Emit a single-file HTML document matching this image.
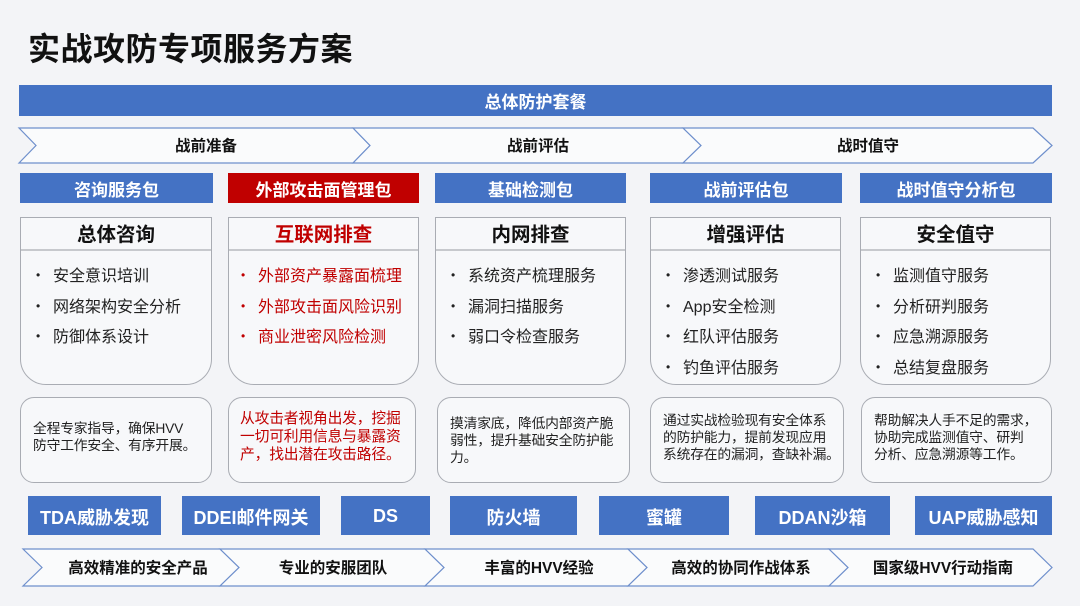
<!DOCTYPE html>
<html><head><meta charset="utf-8"><style>
*{margin:0;padding:0;box-sizing:border-box}
body{width:1080px;height:606px;background:#f3f4f7;font-family:"Liberation Sans","Noto Sans CJK SC",sans-serif;position:relative;overflow:hidden}
.a{position:absolute}
.title{left:28px;top:24px;font-size:32px;font-weight:bold;color:#111;letter-spacing:0.5px}
.bar{background:#4472c4;color:#fff;font-weight:bold;display:flex;align-items:center;justify-content:center}
.hd{top:173px;height:30px;font-size:17px}
.card{top:217px;height:168px;border:1px solid #a9acb3;border-radius:0 0 26px 26px;background:#f7f8fa}
.card .h{height:33px;border-bottom:2px solid #c7c9cd;text-align:center;font-size:19.5px;font-weight:bold;line-height:35px;color:#111}
.card ul{list-style:none;padding:10px 0 0 15px}
.card li{font-size:16px;line-height:29.5px;color:#222;white-space:nowrap}
.card li:before{content:"•";display:inline-block;width:17px;font-size:12px;vertical-align:2px}
.red{color:#c00000!important}
.desc{top:397px;height:86px;border:1px solid #a9acb3;border-radius:14px;background:#f7f8fa;font-size:13.8px;line-height:17px;color:#222;display:flex;align-items:center;padding:0 0 6px 12px;white-space:nowrap;letter-spacing:-0.2px}
.pr{top:496px;height:39px;font-size:18px;padding-top:2px}
.chev text{font-weight:bold;fill:#111}
</style></head><body>
<div class="a title">实战攻防专项服务方案</div>
<div class="a bar" style="left:19px;top:85px;width:1033px;height:31px;font-size:17px">总体防护套餐</div>
<svg class="a chev" style="left:0;top:0" width="1080" height="606">
<g fill="#fafbfc" stroke="#6e8fcc" stroke-width="1.2">
<polygon points="19,128 353,128 370,145.5 353,163 19,163 36,145.5"/>
<polygon points="353,128 683,128 701,145.5 683,163 353,163 370,145.5"/>
<polygon points="683,128 1033,128 1052,145.5 1033,163 683,163 701,145.5"/>
<polygon points="23,549 220,549 239,567.5 220,586 23,586 42,567.5"/>
<polygon points="220,549 425,549 444,567.5 425,586 220,586 239,567.5"/>
<polygon points="425,549 628,549 647,567.5 628,586 425,586 444,567.5"/>
<polygon points="628,549 829,549 848,567.5 829,586 628,586 647,567.5"/>
<polygon points="829,549 1033,549 1052,567.5 1033,586 829,586 848,567.5"/>
</g>
<g font-family="Liberation Sans,Noto Sans CJK SC,sans-serif" font-size="15.5" text-anchor="middle">
<text x="206" y="151">战前准备</text>
<text x="538" y="151">战前评估</text>
<text x="868" y="151">战时值守</text>
<text x="138" y="573">高效精准的安全产品</text>
<text x="333" y="573">专业的安服团队</text>
<text x="539" y="573">丰富的HVV经验</text>
<text x="741" y="573">高效的协同作战体系</text>
<text x="943" y="573">国家级HVV行动指南</text>
</g>
</svg>
<div class="a bar hd" style="left:20px;width:193px">咨询服务包</div>
<div class="a bar hd" style="left:228px;width:191px;background:#c00000">外部攻击面管理包</div>
<div class="a bar hd" style="left:435px;width:191px">基础检测包</div>
<div class="a bar hd" style="left:650px;width:192px">战前评估包</div>
<div class="a bar hd" style="left:860px;width:192px">战时值守分析包</div>

<div class="a card" style="left:20px;width:192px"><div class="h">总体咨询</div><ul><li>安全意识培训</li><li>网络架构安全分析</li><li>防御体系设计</li></ul></div>
<div class="a card" style="left:228px;width:191px"><div class="h red">互联网排查</div><ul style="padding-left:12px"><li class="red">外部资产暴露面梳理</li><li class="red">外部攻击面风险识别</li><li class="red">商业泄密风险检测</li></ul></div>
<div class="a card" style="left:435px;width:191px"><div class="h">内网排查</div><ul><li>系统资产梳理服务</li><li>漏洞扫描服务</li><li>弱口令检查服务</li></ul></div>
<div class="a card" style="left:650px;width:191px"><div class="h">增强评估</div><ul><li>渗透测试服务</li><li>App安全检测</li><li>红队评估服务</li><li>钓鱼评估服务</li></ul></div>
<div class="a card" style="left:860px;width:191px"><div class="h">安全值守</div><ul><li>监测值守服务</li><li>分析研判服务</li><li>应急溯源服务</li><li>总结复盘服务</li></ul></div>

<div class="a desc" style="left:20px;width:192px">全程专家指导，确保HVV<br>防守工作安全、有序开展。</div>
<div class="a desc red" style="left:228px;width:188px;font-size:14.8px;line-height:18px;padding-left:11px">从攻击者视角出发，挖掘<br>一切可利用信息与暴露资<br>产，找出潜在攻击路径。</div>
<div class="a desc" style="left:437px;width:193px;align-items:flex-start;padding-top:17px">摸清家底，降低内部资产脆<br>弱性，提升基础安全防护能<br>力。</div>
<div class="a desc" style="left:650px;width:194px">通过实战检验现有安全体系<br>的防护能力，提前发现应用<br>系统存在的漏洞，查缺补漏。</div>
<div class="a desc" style="left:861px;width:191px">帮助解决人手不足的需求，<br>协助完成监测值守、研判<br>分析、应急溯源等工作。</div>

<div class="a bar pr" style="left:28px;width:133px">TDA威胁发现</div>
<div class="a bar pr" style="left:182px;width:138px">DDEI邮件网关</div>
<div class="a bar pr" style="left:341px;width:89px">DS</div>
<div class="a bar pr" style="left:450px;width:127px">防火墙</div>
<div class="a bar pr" style="left:599px;width:130px">蜜罐</div>
<div class="a bar pr" style="left:755px;width:135px">DDAN沙箱</div>
<div class="a bar pr" style="left:915px;width:137px">UAP威胁感知</div>
</body></html>
